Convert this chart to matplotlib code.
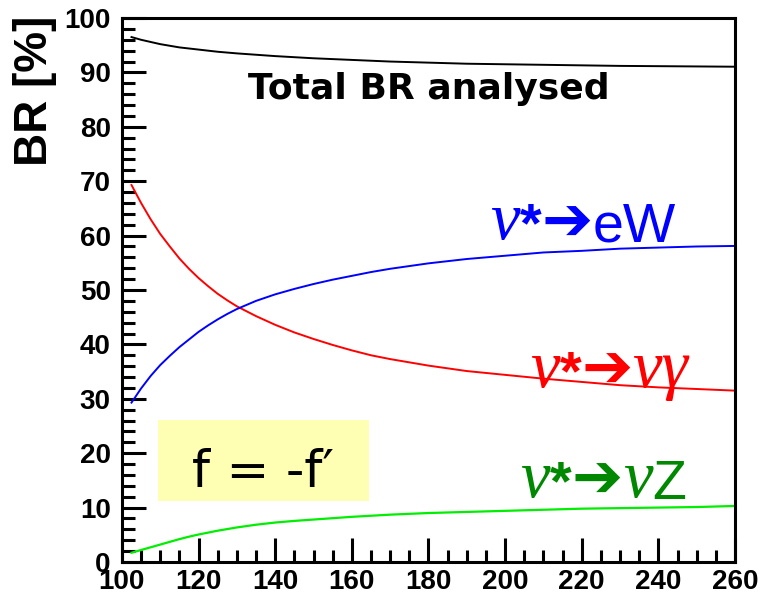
import matplotlib
matplotlib.use("Agg")
import matplotlib.pyplot as plt
from matplotlib.patches import Rectangle
from matplotlib.ticker import MultipleLocator

# excited neutrino mass [GeV] and branching ratios [%]
mass = [102.5, 105, 107.5, 110, 112.5, 115, 117.5, 120, 122.5, 125, 127.5,
        130, 135, 140, 145, 150, 155, 160, 165, 170, 180, 190, 200, 210,
        220, 230, 240, 250, 260]
br_total = [96.5, 96.0, 95.6, 95.2, 94.9, 94.6, 94.4, 94.2, 94.0, 93.8, 93.65,
            93.5, 93.25, 93.0, 92.8, 92.6, 92.45, 92.3, 92.15, 92.0, 91.8,
            91.6, 91.5, 91.4, 91.3, 91.2, 91.15, 91.1, 91.05]
br_nugamma = [69.3, 66.0, 63.0, 60.3, 58.0, 55.8, 53.9, 52.2, 50.7, 49.3, 48.1,
              47.0, 45.2, 43.6, 42.2, 41.0, 39.9, 38.9, 38.0, 37.3, 36.1,
              35.1, 34.4, 33.7, 33.1, 32.5, 32.1, 31.8, 31.5]
br_ew = [29.3, 31.9, 34.2, 36.2, 37.9, 39.5, 40.9, 42.3, 43.5, 44.6, 45.6,
         46.5, 48.0, 49.2, 50.2, 51.1, 51.9, 52.6, 53.3, 53.9, 54.9, 55.7,
         56.3, 56.9, 57.2, 57.6, 57.8, 58.0, 58.1]
br_nuz = [1.7, 2.2, 2.7, 3.2, 3.7, 4.2, 4.65, 5.05, 5.4, 5.75, 6.05, 6.35,
          6.85, 7.25, 7.55, 7.8, 8.05, 8.3, 8.5, 8.7, 9.0, 9.2, 9.4, 9.6,
          9.8, 9.9, 10.0, 10.1, 10.3]

SANS = "Liberation Sans"
SERIF = "Liberation Serif"
ARROW = "\u2794"


def chain_label(ax, x, y, pieces, color):
    # draw label pieces one after another along a common baseline
    fam, style, weight, size, s = pieces[0]
    prev = ax.text(x, y, s, color=color, fontsize=size, family=fam,
                   style=style, weight=weight, ha="left", va="baseline")
    for fam, style, weight, size, s in pieces[1:]:
        prev = ax.annotate(s, xy=(1, 0), xycoords=prev, color=color,
                           fontsize=size, family=fam, style=style,
                           weight=weight, ha="left", va="bottom",
                           annotation_clip=False)


def piece_list(tail):
    return [(SERIF, "italic", "normal", 48, "\u03bd"),
            (SANS, "normal", "bold", 40, "*"),
            ("DejaVu Sans", "normal", "bold", 44, ARROW)] + tail


fig = plt.figure(figsize=(7.62, 5.95), dpi=100)
ax = fig.add_axes([0.160, 0.0555, 0.8046, 0.9142])

ax.plot(mass, br_total, color="black", lw=1.4)
ax.plot(mass, br_nugamma, color="#ff0000", lw=1.4)
ax.plot(mass, br_ew, color="#0000ff", lw=1.4)
ax.plot(mass, br_nuz, color="#00ee00", lw=1.6)

ax.set_xlim(100, 260)
ax.set_ylim(0, 100)
ax.xaxis.set_major_locator(MultipleLocator(20))
ax.xaxis.set_minor_locator(MultipleLocator(5))
ax.yaxis.set_major_locator(MultipleLocator(10))
ax.yaxis.set_minor_locator(MultipleLocator(2))
ax.tick_params(which="both", direction="in", width=2.2, top=False, right=False)
ax.tick_params(which="major", length=17)
ax.tick_params(which="minor", length=9)
ax.tick_params(axis="y", pad=8)
ax.tick_params(axis="x", pad=5)
for lab in ax.get_xticklabels() + ax.get_yticklabels():
    lab.set_family(SANS)
    lab.set_weight("bold")
    lab.set_fontsize(20)
for sp in ax.spines.values():
    sp.set_linewidth(2.2)

fig.text(35 / 762, 1 - 16 / 595, "BR [%]", rotation=90, ha="center",
         va="top", family=SANS, weight="bold", fontsize=33)

ax.text(180, 86.9, "Total BR analysed", ha="center", va="center",
        family="DejaVu Sans", weight="bold", fontsize=26)

# pale yellow box with the coupling condition
ax.add_patch(Rectangle((0.0587, 0.112), 0.344, 0.149, transform=ax.transAxes,
                       fc="#ffffb4", ec="none", zorder=1))
ax.text(0.230, 0.138, "f = -f\u2032", transform=ax.transAxes, ha="center",
        va="baseline", family="DejaVu Sans", fontsize=37, zorder=2)

chain_label(ax, 196, 59.3,
            piece_list([(SANS, "normal", "normal", 40, "eW")]), "#0000ff")
chain_label(ax, 206.5, 32.2,
            piece_list([(SERIF, "italic", "normal", 48, "\u03bd\u03b3")]),
            "#ff0000")
chain_label(ax, 204, 11.9,
            piece_list([(SERIF, "italic", "normal", 48, "\u03bd"),
                        (SANS, "normal", "normal", 40, "Z")]), "#008800")

fig.savefig("out.png", dpi=100)
